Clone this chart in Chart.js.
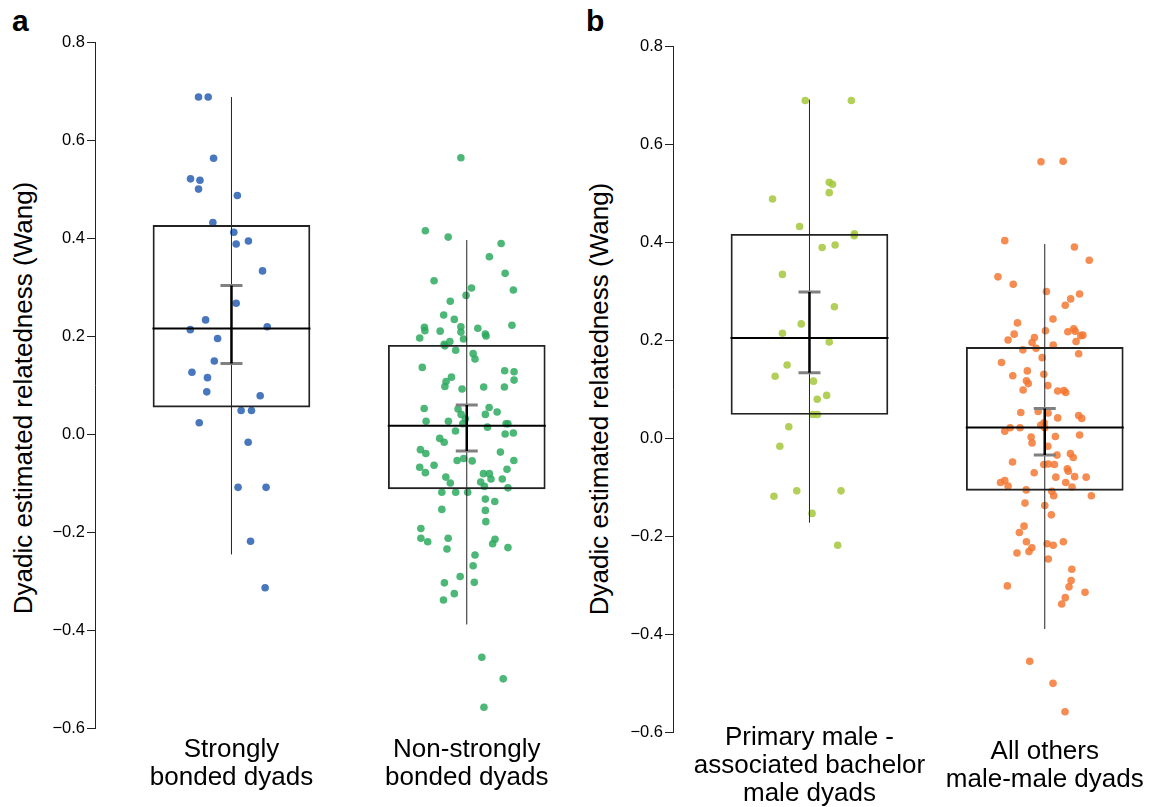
<!DOCTYPE html>
<html lang="en">
<head>
  <meta charset="UTF-8">
  <title>Dyadic relatedness</title>
  <script src="https://cdn.jsdelivr.net/npm/chart.js"></script>
  <style>
    html, body { margin: 0; padding: 0; overflow: hidden; background: #fff; width: 1150px; height: 807px; }
    body { position: relative; font-family: "Liberation Sans", Arial, sans-serif; }
    canvas { position: absolute; }
    #chartA { left: 0; top: 0; }
    #chartB { left: 577.7px; top: 4px; }
    .panel { position: absolute; font-weight: bold; font-size: 30px; line-height: 30px; color: #000; }
    .ytitle { position: absolute; font-size: 26px; line-height: 26px; white-space: nowrap; color: #000;
              transform: translate(-50%, -50%) rotate(-90deg); }
  </style>
</head>
<body>
  <div class="panel" style="left:12px; top:6px;">a</div>
  <div class="panel" style="left:586px; top:6px;">b</div>
  <div class="ytitle" style="left:22.5px; top:398px;">Dyadic estimated relatedness (Wang)</div>
  <div class="ytitle" style="left:598.5px; top:399px;">Dyadic estimated relatedness (Wang)</div>
  <canvas id="chartA" width="575" height="807"></canvas>
  <canvas id="chartB" width="575" height="807"></canvas>

  <script>
    // category labels
    const catsA = [['Strongly', 'bonded dyads'], ['Non-strongly', 'bonded dyads']];
    const catsB = [['Primary male -', 'associated bachelor', 'male dyads'], ['All others', 'male-male dyads']];
    const yTickValues = [-0.6, -0.4, -0.2, 0.0, 0.2, 0.4, 0.6, 0.8];

    // panel a, strongly bonded dyads (value, horizontal jitter)
    const strongVals = [0.689, 0.689, 0.564, 0.522, 0.519, 0.501, 0.488, 0.433, 0.413, 0.389,
      0.395, 0.334, 0.268, 0.234, 0.214, 0.220, 0.196, 0.150, 0.127, 0.116,
      0.087, 0.079, 0.049, 0.049, 0.024, -0.016, -0.108, -0.108, -0.218, -0.313];
    const strongJit = [-0.140, -0.099, -0.076, -0.174, -0.134, -0.140, 0.025, -0.079, 0.010, 0.020,
      0.072, 0.132, 0.020, -0.110, -0.175, 0.152, -0.059, -0.073, -0.168, -0.102,
      -0.105, 0.122, 0.041, 0.085, -0.137, 0.071, 0.028, 0.147, 0.081, 0.143];

    // panel a, non-strongly bonded dyads
    const nonStrongVals = [0.565, 0.416, 0.403, 0.390, 0.363, 0.329, 0.314, 0.299, 0.295, 0.284,
      0.272, 0.244, 0.235, 0.219, 0.220, 0.223, 0.212, 0.211, 0.209, 0.217,
      0.205, 0.201, 0.197, 0.190, 0.195, 0.184, 0.181, 0.172, 0.165, 0.154,
      0.137, 0.130, 0.128, 0.117, 0.108, 0.098, 0.111, 0.093, 0.097, 0.097,
      0.053, 0.052, 0.055, 0.046, 0.041, 0.041, 0.032, 0.027, 0.027, 0.022,
      0.022, 0.022, 0.015, 0.007, 0.001, 0.003, -0.008, -0.016, -0.031, -0.039,
      -0.036, -0.053, -0.049, -0.054, -0.053, -0.067, -0.063, -0.078, -0.071, -0.080,
      -0.080, -0.087, -0.091, -0.091, -0.099, -0.097, -0.106, -0.109, -0.118, -0.118,
      -0.118, -0.132, -0.137, -0.153, -0.155, -0.178, -0.192, -0.212, -0.219, -0.212,
      -0.214, -0.223, -0.231, -0.234, -0.246, -0.268, -0.290, -0.303, -0.302, -0.325,
      -0.338, -0.455, -0.499, -0.557];
    const nonStrongJit = [-0.025, -0.176, -0.079, 0.146, 0.096, 0.163, -0.139, 0.020, 0.198, -0.003,
      -0.070, -0.098, -0.053, -0.180, -0.025, 0.192, -0.178, -0.113, -0.025, 0.047,
      0.079, 0.082, -0.200, -0.072, -0.014, -0.096, -0.093, -0.047, 0.027, 0.035,
      -0.189, 0.161, 0.201, -0.065, -0.088, -0.093, 0.201, -0.020, 0.072, 0.160,
      -0.181, -0.037, 0.095, 0.129, 0.079, -0.024, -0.006, -0.173, -0.078, -0.017,
      0.167, 0.175, 0.088, -0.048, 0.163, 0.198, -0.115, -0.096, -0.197, -0.174,
      0.143, -0.041, -0.013, 0.023, 0.200, -0.200, -0.139, -0.176, 0.171, 0.071,
      0.096, -0.089, 0.103, 0.151, -0.070, 0.059, 0.075, 0.175, -0.106, -0.047,
      0.004, 0.079, 0.119, -0.106, 0.079, 0.081, -0.195, -0.195, -0.166, -0.079,
      0.120, 0.110, 0.175, -0.084, 0.035, 0.027, -0.028, -0.095, 0.032, -0.053,
      -0.099, 0.064, 0.155, 0.073];

    // panel b, primary male - associated bachelor male dyads
    const primaryVals = [0.690, 0.690, 0.523, 0.519, 0.502, 0.489, 0.433, 0.418, 0.414, 0.395,
      0.390, 0.335, 0.269, 0.234, 0.215, 0.197, 0.150, 0.127, 0.117, 0.088,
      0.080, 0.049, 0.049, 0.024, -0.016, -0.107, -0.118, -0.107, -0.153, -0.218];
    const primaryJit = [-0.018, 0.178, 0.084, 0.098, 0.084, -0.157, -0.042, 0.191, 0.190, 0.109,
      0.054, -0.115, 0.106, -0.035, -0.115, 0.084, -0.095, -0.146, 0.017, 0.073,
      0.033, 0.014, 0.034, -0.088, -0.126, -0.054, -0.151, 0.134, 0.011, 0.120];

    // panel b, all other male-male dyads
    const othersVals = [0.565, 0.566, 0.404, 0.391, 0.364, 0.330, 0.315, 0.300, 0.295, 0.285,
      0.272, 0.244, 0.236, 0.220, 0.218, 0.224, 0.219, 0.210, 0.211, 0.213,
      0.206, 0.201, 0.196, 0.198, 0.191, 0.181, 0.184, 0.173, 0.165, 0.155,
      0.138, 0.128, 0.131, 0.118, 0.112, 0.108, 0.099, 0.097, 0.098, 0.094,
      0.053, 0.055, 0.052, 0.042, 0.047, 0.041, 0.027, 0.032, 0.022, 0.022,
      0.022, 0.015, 0.004, 0.007, 0.003, -0.009, -0.016, -0.034, -0.031, -0.039,
      -0.048, -0.053, -0.052, -0.053, -0.062, -0.067, -0.070, -0.079, -0.078, -0.079,
      -0.086, -0.090, -0.097, -0.090, -0.099, -0.105, -0.108, -0.117, -0.117, -0.132,
      -0.137, -0.156, -0.179, -0.192, -0.211, -0.223, -0.231, -0.234, -0.215, -0.218,
      -0.211, -0.246, -0.267, -0.290, -0.303, -0.301, -0.314, -0.325, -0.338, -0.455,
      -0.500, -0.558];
    const othersJit = [-0.016, 0.078, -0.170, 0.126, 0.189, -0.199, -0.134, 0.007, 0.148, 0.110,
      0.087, 0.035, -0.116, 0.003, 0.098, 0.123, 0.129, 0.153, 0.162, -0.130,
      -0.044, -0.156, -0.054, 0.133, 0.036, -0.093, -0.037, 0.144, -0.011, -0.184,
      -0.074, -0.136, -0.004, -0.078, -0.070, 0.013, -0.092, 0.055, 0.081, 0.089,
      -0.102, -0.028, 0.014, 0.055, 0.144, 0.157, -0.017, -0.003, 0.000, -0.147,
      -0.105, -0.170, 0.045, 0.148, -0.058, -0.054, 0.013, 0.052, 0.109, 0.121,
      -0.137, -0.004, 0.015, 0.041, 0.096, 0.100, -0.045, 0.047, 0.127, 0.176,
      -0.170, -0.188, -0.156, 0.089, 0.116, -0.079, 0.030, 0.038, 0.198, -0.084,
      0.000, 0.028, -0.088, -0.108, -0.078, -0.055, -0.067, -0.118, 0.010, 0.036,
      0.079, 0.015, 0.115, 0.112, 0.103, -0.159, 0.171, 0.087, 0.072, -0.064,
      0.035, 0.086];

    // box summaries per group (first, second category)
    const q1A = [0.056, -0.111], medA = [0.2165, 0.0176], q3A = [0.427, 0.182];
    const whiskLoA = [-0.245, -0.388], whiskHiA = [0.689, 0.397];
    const seLoA = [0.145, -0.034], seHiA = [0.304, 0.060];

    const q1B = [0.049, -0.106], medB = [0.205, 0.0225], q3B = [0.417, 0.186];
    const whiskLoB = [-0.172, -0.389], whiskHiB = [0.692, 0.397];
    const seLoB = [0.134, -0.034], seHiB = [0.299, 0.061];

    const font = "'Liberation Sans', Arial, Helvetica, sans-serif";

    function jitterPoints(vals, jit, cat) {
      return vals.map((v, i) => ({ x: cat + jit[i], y: v }));
    }

    function makePanel(id, cats, groups, stats, labelPad) {
      const datasets = [];
      groups.forEach((g, k) => {
        datasets.push({
          type: 'scatter',
          data: jitterPoints(g.vals, g.jit, k + 1),
          backgroundColor: g.color,
          borderWidth: 0,
          pointRadius: 3.8,
          order: 5
        });
      });
      // boxes
      datasets.push({
        type: 'bar',
        data: [1, 2].map((c, k) => ({ x: c, y: [stats.q1[k], stats.q3[k]] })),
        backgroundColor: 'rgba(0,0,0,0)',
        borderColor: '#222',
        borderWidth: 1.2,
        borderSkipped: false,
        barThickness: 157,
        order: 2
      });
      [1, 2].forEach((c, k) => {
        // whisker
        datasets.push({
          type: 'line',
          data: [{ x: c, y: stats.wLo[k] }, { x: c, y: stats.wHi[k] }],
          borderColor: '#222', borderWidth: 1, pointRadius: 0, order: 1
        });
        // standard error bar
        datasets.push({
          type: 'line',
          data: [{ x: c, y: stats.seLo[k] }, { x: c, y: stats.seHi[k] }],
          borderColor: '#000', borderWidth: 2.5, pointRadius: 0, order: 0
        });
      });
      // error caps
      datasets.push({
        type: 'scatter',
        data: [1, 2].flatMap((c, k) => [{ x: c, y: stats.seLo[k] }, { x: c, y: stats.seHi[k] }]),
        pointStyle: 'line', pointRadius: 11, borderColor: '#808080', borderWidth: 3, order: 0
      });
      // medians
      datasets.push({
        type: 'scatter',
        data: [1, 2].map((c, k) => ({ x: c, y: stats.med[k] })),
        pointStyle: 'line', pointRadius: 79, borderColor: '#000', borderWidth: 2, order: 0
      });

      return new Chart(document.getElementById(id), {
        type: 'scatter',
        data: { datasets },
        options: {
          responsive: false,
          animation: false,
          devicePixelRatio: 1,
          layout: { autoPadding: false, padding: { top: 42.7, bottom: 0, left: 0, right: 0 } },
          plugins: { legend: { display: false }, tooltip: { enabled: false } },
          scales: {
            x: {
              type: 'linear', min: 0.42, max: 2.46, offset: false,
              grid: { display: false, drawTicks: false, offset: false },
              border: { display: false },
              afterBuildTicks: s => { s.ticks = [{ value: 1 }, { value: 2 }]; },
              afterFit: s => {
                s.height = 807 - 728.3;
                // let the first label line rise above the axis box without clipping
                s._computeLabelArea = () => undefined;
              },
              ticks: {
                autoSkip: false, maxRotation: 0, minRotation: 0,
                padding: labelPad, crossAlign: 'center', color: '#000',
                font: { family: font, size: 26, lineHeight: 1.08 },
                callback: v => cats[Math.round(v) - 1]
              }
            },
            y: {
              type: 'linear', min: -0.6, max: 0.8,
              afterBuildTicks: s => { s.ticks = yTickValues.map(v => ({ value: v })); },
              afterFit: s => { s.width = 95; },
              grid: { display: true, drawOnChartArea: false, drawTicks: true, tickLength: 8, color: '#222', lineWidth: 1 },
              border: { display: true, color: '#222', width: 1 },
              ticks: {
                padding: 2, color: '#000',
                font: { family: font, size: 16.5 },
                callback: v => {
                  const r = Math.round(v * 10) / 10;
                  return (r < 0 ? '\u2212' : '') + Math.abs(r).toFixed(1);
                }
              }
            }
          }
        }
      });
    }

    makePanel('chartA', catsA, [
      { vals: strongVals, jit: strongJit, color: 'rgb(72,119,190)' },
      { vals: nonStrongVals, jit: nonStrongJit, color: 'rgba(45,170,95,0.85)' }
    ], { q1: q1A, med: medA, q3: q3A, wLo: whiskLoA, wHi: whiskHiA, seLo: seLoA, seHi: seHiA }, 21.7);

    makePanel('chartB', catsB, [
      { vals: primaryVals, jit: primaryJit, color: 'rgba(165,200,60,0.85)' },
      { vals: othersVals, jit: othersJit, color: 'rgba(243,120,50,0.85)' }
    ], { q1: q1B, med: medB, q3: q3B, wLo: whiskLoB, wHi: whiskHiB, seLo: seLoB, seHi: seHiB }, 5.4);
  </script>
</body>
</html>
